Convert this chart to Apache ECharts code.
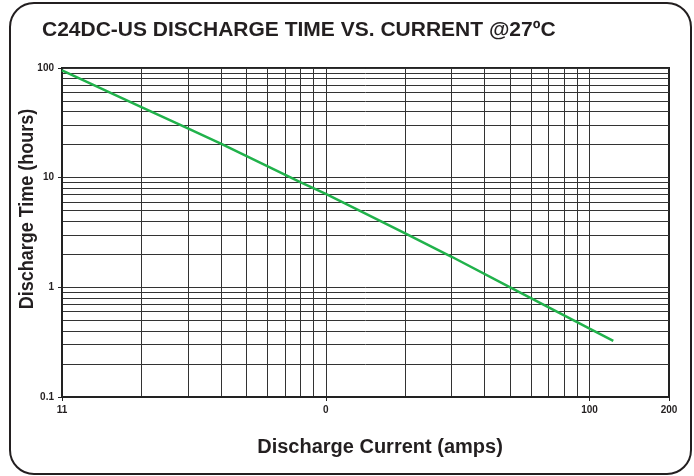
<!DOCTYPE html>
<html>
<head>
<meta charset="utf-8">
<script src="https://cdn.jsdelivr.net/npm/echarts@6/dist/echarts.min.js"></script>
<style>
  html, body { margin: 0; padding: 0; background: #fff; }
  #chart { width: 694px; height: 476px; }
</style>
</head>
<body>
<div id="chart"></div>
<script>
// values (log-log)
const currentAmps = [1, 2, 3, 4, 8, 10, 20, 30, 50, 100, 123];
const dischargeHours = [95, 44, 28.2, 20.4, 9.1, 7.1, 3.1, 1.9, 1.0, 0.42, 0.325];

const xGridValues = [1, 2, 3, 4, 5, 6, 7, 8, 9, 10, 20, 30, 40, 50, 60, 70, 80, 90, 100];
const yGridValues = [0.1, 0.2, 0.3, 0.4, 0.5, 0.6, 0.7, 0.8, 0.9,
  1, 2, 3, 4, 5, 6, 7, 8, 9, 10, 20, 30, 40, 50, 60, 70, 80, 90, 100];
const xTickValues = [1, 10, 100, 200];
const xTickLabels = ['11', '0', '100', '200'];
const yTickValues = [0.1, 1, 10, 100];
const yTickLabels = ['0.1', '1', '10', '100'];

const FONT = "'Liberation Sans', Arial, Helvetica, sans-serif";
const TEXT = '#231f20';
const lg = (v) => Math.log10(v);

function labelFor(values, texts) {
  return function (v) {
    const i = values.findIndex((t) => Math.abs(lg(t) - v) < 1e-6);
    return i >= 0 ? texts[i] : '';
  };
}

const chart = echarts.init(document.getElementById('chart'));

const gridAxis = (values, min, max) => ({
  type: 'value',
  min: min,
  max: max,
  axisLine: { show: false },
  axisTick: { show: false, customValues: values.map(lg) },
  axisLabel: { show: false },
  splitLine: { show: true, lineStyle: { color: '#333', width: 1 } },
});

const tickAxis = (values, texts, min, max, extra) => Object.assign({
  type: 'value',
  min: min,
  max: max,
  axisLine: { show: true, onZero: false, lineStyle: { color: '#222', width: 2 } },
  axisTick: {
    show: true,
    customValues: values.map(lg),
    length: 4,
    lineStyle: { color: '#222', width: 1 },
  },
  axisLabel: {
    customValues: values.map(lg),
    formatter: labelFor(values, texts),
    color: TEXT,
    fontFamily: FONT,
    fontWeight: 'bold',
    fontSize: 10,
  },
  splitLine: { show: false },
}, extra);

const option = {
  animation: false,
  title: {
    text: 'C24DC-US DISCHARGE TIME VS. CURRENT @27ºC',
    left: 37,
    top: 15,
    textStyle: { fontFamily: FONT, fontWeight: 'bold', fontSize: 21, color: TEXT },
  },
  grid: {
    left: 62,
    right: 25,
    top: 68,
    bottom: 79,
    show: true,
    borderColor: '#222',
    borderWidth: 2,
  },
  xAxis: [
    gridAxis(xGridValues, 0, lg(200)),
    tickAxis(xTickValues, xTickLabels, 0, lg(200), { position: 'bottom' }),
  ],
  yAxis: [
    gridAxis(yGridValues, -1, 2),
    tickAxis(yTickValues, yTickLabels, -1, 2, { position: 'left' }),
  ],
  graphic: [
    {
      type: 'rect',
      shape: { x: 10, y: 3, width: 681, height: 471, r: 24 },
      style: { fill: 'none', stroke: '#231f20', lineWidth: 2 },
      silent: true,
    },
    {
      type: 'text',
      x: 27,
      y: 209,
      rotation: Math.PI / 2,
      scaleX: 0.9,
      style: {
        text: 'Discharge Time (hours)',
        fontFamily: FONT, fontWeight: 'bold', fontSize: 20, fill: TEXT,
        align: 'center', verticalAlign: 'middle',
        textAlign: 'center', textVerticalAlign: 'middle',
      },
    },
    {
      type: 'text',
      x: 380,
      y: 447,
      style: {
        text: 'Discharge Current (amps)',
        fontFamily: FONT, fontWeight: 'bold', fontSize: 20, fill: TEXT,
        align: 'center', verticalAlign: 'middle',
        textAlign: 'center', textVerticalAlign: 'middle',
      },
    },
  ],
  series: [{
    type: 'line',
    xAxisIndex: 0,
    yAxisIndex: 0,
    data: currentAmps.map((c, i) => [lg(c), lg(dischargeHours[i])]),
    showSymbol: false,
    lineStyle: { color: '#21b24b', width: 2.5 },
    z: 5,
  }],
};

chart.setOption(option);
</script>
</body>
</html>
